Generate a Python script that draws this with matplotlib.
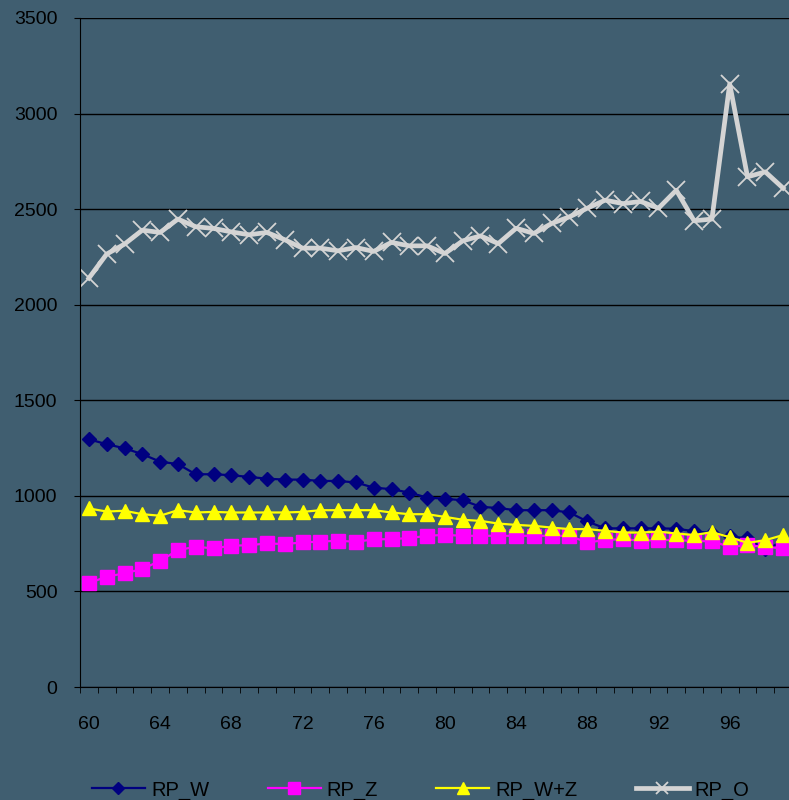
import matplotlib.pyplot as plt
import numpy as np

years = list(range(60, 100))
rp_w = [1296, 1270, 1249, 1218, 1179, 1166, 1113, 1113, 1108, 1099,
        1090, 1085, 1085, 1078, 1078, 1070, 1043, 1035, 1017, 991,
        985, 977, 943, 936, 925, 925, 925, 913, 866, 830,
        830, 830, 830, 828, 815, 805, 789, 777, 721, 760]
rp_z = [544, 577, 595, 617, 660, 716, 734, 725, 739, 742,
        751, 748, 756, 761, 765, 760, 772, 774, 779, 791,
        796, 791, 791, 791, 791, 791, 791, 791, 756, 769,
        774, 765, 769, 769, 763, 763, 733, 742, 733, 725]
rp_wz = [934, 918, 922, 904, 896, 925, 913, 916, 913, 913,
         913, 913, 916, 925, 925, 925, 925, 913, 904, 904,
         890, 875, 869, 855, 848, 843, 834, 826, 826, 817,
         808, 808, 813, 803, 795, 810, 784, 754, 768, 795]
rp_o = [2139, 2265, 2317, 2390, 2378, 2448, 2408, 2399, 2381, 2366,
        2378, 2340, 2296, 2296, 2282, 2299, 2279, 2326, 2308, 2308,
        2268, 2334, 2360, 2320, 2400, 2373, 2425, 2460, 2505, 2547,
        2529, 2540, 2505, 2599, 2439, 2448, 3155, 2669, 2695, 2610]
tick_years = [60, 64, 68, 72, 76, 80, 84, 88, 92, 96]

bg = '#405E70'
plt.rcParams['font.family'] = ['Liberation Sans', 'DejaVu Sans']

fig = plt.figure(figsize=(7.89, 8.0), dpi=100, facecolor=bg)
ax = fig.add_axes([80 / 789, 113 / 800, 712 / 789, 669 / 800], facecolor=bg)

x = np.arange(len(years))
ax.plot(x, rp_w, color='#000080', lw=1.6, marker='D', ms=6.8, label='RP_W')
ax.plot(x, rp_z, color='#FF00FF', lw=1.6, marker='s', ms=10, label='RP_Z')
ax.plot(x, rp_wz, color='#FFFF00', lw=1.6, marker='^', ms=10, label='RP_W+Z')
ax.plot(x, rp_o, color='#D4D4D4', lw=3.4, marker='x', ms=13, mew=1.3, label='RP_O')

ax.set_xlim(-0.5, len(years) - 0.5)
ax.set_ylim(0, 3500)
ax.set_yticks(range(0, 3501, 500))
ax.grid(axis='y', color='black', lw=1)
ax.set_axisbelow(True)

ax.set_xticks([years.index(t) for t in tick_years])
ax.set_xticklabels([str(t) for t in tick_years])
ax.set_xticks(np.arange(-0.5, len(years)), minor=True)
ax.tick_params(axis='x', which='major', length=0, pad=21, labelsize=14)
ax.tick_params(axis='x', which='minor', length=4.3, direction='out', color='black')
ax.tick_params(axis='y', length=4.3, direction='out', pad=12, labelsize=14)

for s in ['top', 'right']:
    ax.spines[s].set_visible(False)
ax.spines['left'].set_color('black')
ax.spines['bottom'].set_color('black')

leg = fig.legend(loc='center left', bbox_to_anchor=(92 / 789, 1 - 790 / 800), ncol=4,
                 frameon=False, fontsize=14.5, numpoints=1, handlelength=2.63,
                 handletextpad=0.3, columnspacing=2.9, borderpad=0, borderaxespad=0)
for h, m in zip(leg.legend_handles, [6.0, 9, 8, 8.5]):
    h.set_markersize(m)

plt.savefig('out.png', dpi=100, facecolor=bg)
